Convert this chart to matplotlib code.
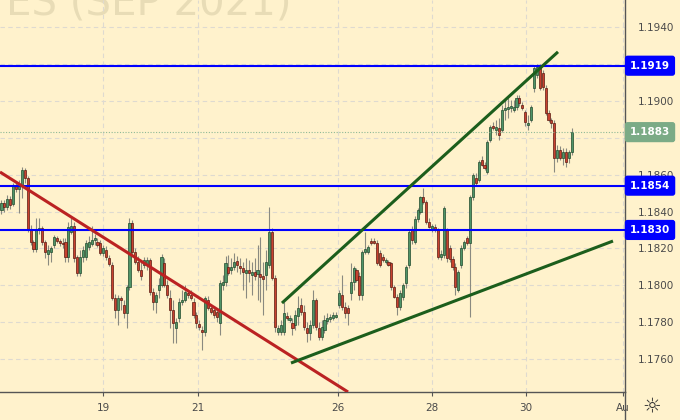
"""Euro FX futures (Sep 2021) candles with key levels and hand-drawn trend lines."""

from __future__ import annotations

import matplotlib

matplotlib.use("Agg")
import matplotlib.pyplot as plt
import matplotlib.transforms as mtransforms
import numpy as np
from matplotlib.lines import Line2D

BG = "#fff2cc"
UP_FILL, UP_EDGE = "#4f9468", "#1f4a2c"
DOWN_FILL, DOWN_EDGE = "#c8412f", "#5a1a10"
WICK = "#8a8a80"
LEVEL_BLUE = "#0000ff"
LAST_GREEN = "#7bab86"

# --- candles (oldest first) ---
opens = [
    1.18408, 1.18446, 1.18424, 1.18468, 1.18441, 1.18538, 1.18522, 1.18544, 1.18625, 1.18582,
    1.18300, 1.18235, 1.18197, 1.18300, 1.18311, 1.18235, 1.18170, 1.18180, 1.18218, 1.18256,
    1.18240, 1.18229, 1.18235, 1.18153, 1.18289, 1.18321, 1.18153, 1.18067, 1.18153, 1.18153,
    1.18208, 1.18224, 1.18246, 1.18235, 1.18229, 1.18175, 1.18191, 1.18148, 1.18110, 1.17931,
    1.17866, 1.17931, 1.17893, 1.17850, 1.17991, 1.18338, 1.18180, 1.18126, 1.18083, 1.18110,
    1.18110, 1.18137, 1.17964, 1.17909, 1.17975, 1.18002, 1.18121, 1.18002, 1.17931, 1.17866,
    1.17769, 1.17823, 1.17909, 1.17920, 1.17958, 1.17947, 1.17909, 1.17839, 1.17790, 1.17758,
    1.17747, 1.17920, 1.17877, 1.17866, 1.17855, 1.17796, 1.18002, 1.18018, 1.18099, 1.18083,
    1.18099, 1.18132, 1.18105, 1.18094, 1.18067, 1.18083, 1.18056, 1.18072, 1.18061, 1.18061,
    1.18050, 1.18056, 1.18110, 1.18289, 1.18040, 1.17747, 1.17747, 1.17747, 1.17834, 1.17812,
    1.17796, 1.17785, 1.17834, 1.17893, 1.17855, 1.17769, 1.17741, 1.17785, 1.17920, 1.17769,
    1.17720, 1.17758, 1.17806, 1.17817, 1.17823, 1.17828, 1.17893, 1.17947, 1.17882, 1.17877,
    1.17958, 1.18018, 1.18083, 1.18050, 1.17947, 1.18180, 1.18180, 1.18240, 1.18240, 1.18229,
    1.18175, 1.18153, 1.18126, 1.18126, 1.18121, 1.17991, 1.17937, 1.17882, 1.17937, 1.18012,
    1.18110, 1.18300, 1.18235, 1.18359, 1.18397, 1.18479, 1.18451, 1.18343, 1.18300, 1.18316,
    1.18300, 1.18153, 1.18164, 1.18300, 1.18202, 1.18143, 1.18099, 1.17975, 1.18110, 1.18202,
    1.18256, 1.18229, 1.18479, 1.18582, 1.18571, 1.18679, 1.18652, 1.18614, 1.18788, 1.18863,
    1.18842, 1.18853, 1.18842, 1.18950, 1.18956, 1.18961, 1.18950, 1.18966, 1.19015, 1.18977,
    1.18939, 1.18869, 1.18896, 1.19069, 1.19140, 1.19183, 1.19151, 1.19069, 1.18934, 1.18896,
    1.18880, 1.18690, 1.18733, 1.18690, 1.18722, 1.18690, 1.18722,
]
highs = [
    1.18462, 1.18462, 1.18489, 1.18484, 1.18554, 1.18565, 1.18571, 1.18641, 1.18636, 1.18592,
    1.18327, 1.18246, 1.18365, 1.18365, 1.18321, 1.18246, 1.18218, 1.18213, 1.18273, 1.18267,
    1.18251, 1.18256, 1.18256, 1.18343, 1.18365, 1.18343, 1.18164, 1.18191, 1.18213, 1.18246,
    1.18267, 1.18321, 1.18278, 1.18256, 1.18246, 1.18218, 1.18213, 1.18164, 1.18126, 1.17953,
    1.17947, 1.17942, 1.17920, 1.18002, 1.18365, 1.18354, 1.18202, 1.18159, 1.18126, 1.18153,
    1.18153, 1.18148, 1.17985, 1.17964, 1.18040, 1.18170, 1.18148, 1.18029, 1.17975, 1.17920,
    1.17823, 1.17931, 1.17975, 1.18002, 1.17975, 1.17975, 1.17931, 1.17855, 1.17812, 1.17779,
    1.17942, 1.17942, 1.17893, 1.17888, 1.17877, 1.18029, 1.18056, 1.18159, 1.18164, 1.18148,
    1.18175, 1.18159, 1.18148, 1.18126, 1.18148, 1.18137, 1.18126, 1.18148, 1.18218, 1.18262,
    1.18126, 1.18191, 1.18424, 1.18311, 1.18056, 1.17785, 1.17812, 1.17909, 1.17855, 1.17839,
    1.17823, 1.17866, 1.17942, 1.17931, 1.17893, 1.17801, 1.17812, 1.17975, 1.17931, 1.17801,
    1.17812, 1.17839, 1.17850, 1.17844, 1.17855, 1.17855, 1.17975, 1.18056, 1.17909, 1.17893,
    1.18121, 1.18105, 1.18094, 1.18072, 1.18191, 1.18289, 1.18218, 1.18256, 1.18256, 1.18246,
    1.18191, 1.18170, 1.18148, 1.18137, 1.18126, 1.18002, 1.17953, 1.17975, 1.18012, 1.18110,
    1.18300, 1.18321, 1.18376, 1.18419, 1.18484, 1.18527, 1.18462, 1.18365, 1.18332, 1.18332,
    1.18311, 1.18191, 1.18430, 1.18311, 1.18218, 1.18159, 1.18121, 1.18083, 1.18218, 1.18246,
    1.18267, 1.18489, 1.18609, 1.18609, 1.18679, 1.18701, 1.18668, 1.18788, 1.18869, 1.18885,
    1.18896, 1.18907, 1.18977, 1.19004, 1.19015, 1.19004, 1.19004, 1.19031, 1.19031, 1.18993,
    1.18950, 1.18923, 1.18977, 1.19189, 1.19199, 1.19199, 1.19167, 1.19086, 1.18950, 1.18907,
    1.18896, 1.18760, 1.18755, 1.18744, 1.18744, 1.18733, 1.18853,
]
lows = [
    1.18386, 1.18397, 1.18408, 1.18414, 1.18430, 1.18506, 1.18392, 1.18473, 1.18554, 1.18289,
    1.18218, 1.18180, 1.18180, 1.18278, 1.18218, 1.18148, 1.18110, 1.18126, 1.18202, 1.18229,
    1.18213, 1.18202, 1.18126, 1.18126, 1.18278, 1.18126, 1.18050, 1.18050, 1.18126, 1.18137,
    1.18191, 1.18213, 1.18218, 1.18208, 1.18164, 1.18159, 1.18137, 1.18105, 1.17920, 1.17823,
    1.17785, 1.17866, 1.17823, 1.17769, 1.17975, 1.18164, 1.18115, 1.18072, 1.18029, 1.18094,
    1.18083, 1.17947, 1.17866, 1.17850, 1.17931, 1.17991, 1.17991, 1.17931, 1.17769, 1.17687,
    1.17687, 1.17801, 1.17893, 1.17909, 1.17931, 1.17920, 1.17823, 1.17769, 1.17758, 1.17649,
    1.17725, 1.17866, 1.17844, 1.17823, 1.17801, 1.17731, 1.17975, 1.17996, 1.18056, 1.18061,
    1.18083, 1.18072, 1.18061, 1.17975, 1.17931, 1.18018, 1.17947, 1.18029, 1.17920, 1.17909,
    1.17839, 1.17975, 1.18094, 1.18029, 1.17747, 1.17731, 1.17731, 1.17731, 1.17812, 1.17801,
    1.17731, 1.17758, 1.17785, 1.17839, 1.17758, 1.17693, 1.17703, 1.17769, 1.17758, 1.17703,
    1.17703, 1.17741, 1.17790, 1.17801, 1.17812, 1.17823, 1.17877, 1.17866, 1.17823, 1.17785,
    1.17920, 1.17975, 1.18018, 1.17920, 1.17920, 1.18170, 1.18170, 1.18218, 1.18224, 1.18110,
    1.18099, 1.18126, 1.18115, 1.18105, 1.17975, 1.17931, 1.17839, 1.17866, 1.17920, 1.17985,
    1.18094, 1.18224, 1.18224, 1.18343, 1.18386, 1.18441, 1.18332, 1.18311, 1.18289, 1.18289,
    1.18143, 1.18137, 1.18148, 1.18126, 1.18126, 1.18083, 1.17947, 1.17964, 1.18094, 1.18191,
    1.18218, 1.17828, 1.18462, 1.18544, 1.18560, 1.18647, 1.18625, 1.18603, 1.18777, 1.18842,
    1.18815, 1.18788, 1.18831, 1.18896, 1.18907, 1.18939, 1.18939, 1.18950, 1.18972, 1.18950,
    1.18863, 1.18842, 1.18885, 1.19048, 1.19124, 1.19059, 1.19059, 1.18923, 1.18885, 1.18853,
    1.18614, 1.18668, 1.18679, 1.18652, 1.18641, 1.18663, 1.18706,
]
closes = [
    1.18446, 1.18424, 1.18468, 1.18435, 1.18538, 1.18522, 1.18544, 1.18625, 1.18582, 1.18300,
    1.18235, 1.18197, 1.18300, 1.18311, 1.18235, 1.18180, 1.18191, 1.18202, 1.18262, 1.18240,
    1.18229, 1.18224, 1.18153, 1.18316, 1.18321, 1.18148, 1.18067, 1.18153, 1.18191, 1.18229,
    1.18235, 1.18246, 1.18256, 1.18218, 1.18175, 1.18202, 1.18153, 1.18115, 1.17931, 1.17866,
    1.17931, 1.17920, 1.17850, 1.17991, 1.18338, 1.18180, 1.18126, 1.18083, 1.18050, 1.18137,
    1.18137, 1.17964, 1.17909, 1.17947, 1.18002, 1.18153, 1.18002, 1.17947, 1.17866, 1.17796,
    1.17801, 1.17909, 1.17920, 1.17964, 1.17947, 1.17931, 1.17839, 1.17796, 1.17774, 1.17747,
    1.17931, 1.17877, 1.17855, 1.17839, 1.17828, 1.18012, 1.18018, 1.18121, 1.18067, 1.18099,
    1.18126, 1.18110, 1.18094, 1.18072, 1.18083, 1.18067, 1.18072, 1.18050, 1.18083, 1.18045,
    1.18034, 1.18126, 1.18289, 1.18040, 1.17774, 1.17769, 1.17785, 1.17850, 1.17823, 1.17823,
    1.17769, 1.17839, 1.17877, 1.17855, 1.17774, 1.17741, 1.17785, 1.17920, 1.17774, 1.17720,
    1.17774, 1.17812, 1.17823, 1.17828, 1.17839, 1.17839, 1.17958, 1.17882, 1.17850, 1.17850,
    1.18018, 1.18094, 1.18029, 1.17947, 1.18180, 1.18197, 1.18208, 1.18229, 1.18229, 1.18121,
    1.18110, 1.18137, 1.18137, 1.18110, 1.17991, 1.17937, 1.17882, 1.17958, 1.18002, 1.18099,
    1.18289, 1.18246, 1.18359, 1.18408, 1.18479, 1.18451, 1.18343, 1.18316, 1.18321, 1.18300,
    1.18153, 1.18170, 1.18419, 1.18148, 1.18143, 1.18099, 1.17991, 1.18072, 1.18202, 1.18235,
    1.18229, 1.18479, 1.18598, 1.18554, 1.18668, 1.18652, 1.18636, 1.18777, 1.18858, 1.18853,
    1.18858, 1.18815, 1.18950, 1.18961, 1.18966, 1.18972, 1.18966, 1.19015, 1.18988, 1.18961,
    1.18885, 1.18880, 1.18966, 1.19178, 1.19183, 1.19069, 1.19075, 1.18934, 1.18896, 1.18880,
    1.18690, 1.18733, 1.18690, 1.18722, 1.18668, 1.18722, 1.18830,
]

# --- axis labels (positions in candle-index units) ---
day_labels = ["19", "21", "26", "28", "30", "Au"]
day_positions = [34.9, 67.5, 115.7, 148.0, 180.3, 213.6]
price_ticks = [1.1760, 1.1780, 1.1800, 1.1820, 1.1840, 1.1860, 1.1880, 1.1900, 1.1920, 1.1940]
hidden_price_labels = [1.1880, 1.1920]  # covered by the price tags on the scale
price_range = (1.17422, 1.19546)

# --- drawings ---
levels = [1.1919, 1.1854, 1.1830]
last_price = 1.1883
red_trend_x = [-0.5, 119.1]
red_trend_y = [1.18614, 1.17422]
upper_trend_x = [96.4, 191.25]
upper_trend_y = [1.17904, 1.19265]
lower_trend_x = [99.5, 210.15]
lower_trend_y = [1.17579, 1.18240]


def draw_candles(ax: plt.Axes) -> None:
    """Wicks as vlines, bodies as bars; a tiny floor keeps dojis visible."""
    o, h, l, c = map(np.asarray, (opens, highs, lows, closes))
    idx = np.arange(len(o))
    up = c >= o
    ax.vlines(idx, l, h, color=WICK, linewidth=0.8, zorder=2)
    body = np.maximum(np.abs(c - o), 0.00004)
    bottom = np.minimum(o, c)
    ax.bar(idx[up], body[up], bottom=bottom[up], width=0.72,
           color=UP_FILL, edgecolor=UP_EDGE, linewidth=0.5, zorder=3)
    ax.bar(idx[~up], body[~up], bottom=bottom[~up], width=0.72,
           color=DOWN_FILL, edgecolor=DOWN_EDGE, linewidth=0.5, zorder=3)


def price_tag(ax: plt.Axes, value: float, face: str) -> None:
    trans = mtransforms.blended_transform_factory(ax.transAxes, ax.transData)
    ax.text(1.04, value, f"{value:.4f}", transform=trans, ha="center", va="center",
            fontsize=7.5, fontweight="bold", color="white", clip_on=False, zorder=10,
            bbox=dict(boxstyle="round,pad=0.42,rounding_size=0.2", facecolor=face,
                      edgecolor=face))


def main() -> None:
    fig = plt.figure(figsize=(6.8, 4.2), dpi=100, facecolor=BG)
    ax = fig.add_axes([0, 28 / 420, 625 / 680, 392 / 420], facecolor=BG)

    ax.set_xlim(-0.5, -0.5 + 625 / 2.91)
    ax.set_ylim(*price_range)

    # watermark, mostly cut off by the top edge
    ax.text(291 / 625, 1 - 15 / 392, "ES (SEP 2021)", transform=ax.transAxes,
            ha="right", va="baseline", fontsize=29, color="#e8dcb6", zorder=0,
            clip_on=True)

    ax.set_yticks(price_ticks)
    ax.set_yticklabels(
        ["" if p in hidden_price_labels else f"{p:.4f}" for p in price_ticks]
    )
    ax.set_xticks(day_positions)
    ax.set_xticklabels(day_labels)
    ax.yaxis.tick_right()
    ax.tick_params(axis="y", length=0, pad=9, labelsize=7.5, labelcolor="#4a4a4a")
    ax.tick_params(axis="x", length=3, width=0.8, color="#555555", pad=5,
                   labelsize=7.5, labelcolor="#4a4a4a")
    ax.grid(True, color="#dedad0", linestyle=(0, (4, 3)), linewidth=0.8, zorder=0)
    ax.set_axisbelow(True)
    for side in ("left", "top"):
        ax.spines[side].set_visible(False)
    for side in ("right", "bottom"):
        ax.spines[side].set_color("#555555")
        ax.spines[side].set_linewidth(1.0)

    draw_candles(ax)

    ax.axhline(last_price, color="#8fb996", linestyle=(0, (1, 1.5)), linewidth=0.8, zorder=4)
    for lvl in levels:
        ax.axhline(lvl, color=LEVEL_BLUE, linewidth=1.5, zorder=5)

    ax.plot(red_trend_x, red_trend_y, color="#bb2222", linewidth=2.2,
            solid_capstyle="butt", zorder=6)
    ax.plot(upper_trend_x, upper_trend_y, color="#1c5e1c", linewidth=2.2,
            solid_capstyle="butt", zorder=6)
    ax.plot(lower_trend_x, lower_trend_y, color="#1c5e1c", linewidth=2.2,
            solid_capstyle="butt", zorder=6)

    for lvl in levels:
        price_tag(ax, lvl, LEVEL_BLUE)
    price_tag(ax, last_price, LAST_GREEN)

    # price-scale divider runs down into the time-axis strip
    fig.add_artist(Line2D([625 / 680, 625 / 680], [0, 28 / 420],
                          transform=fig.transFigure, color="#555555", linewidth=1.0))
    fig.text(652 / 680, 14 / 420, "\u263c", ha="center", va="center",
             fontsize=15, color="#333333")

    fig.savefig("out.png", dpi=100, facecolor=BG)
    plt.close(fig)


if __name__ == "__main__":
    main()
